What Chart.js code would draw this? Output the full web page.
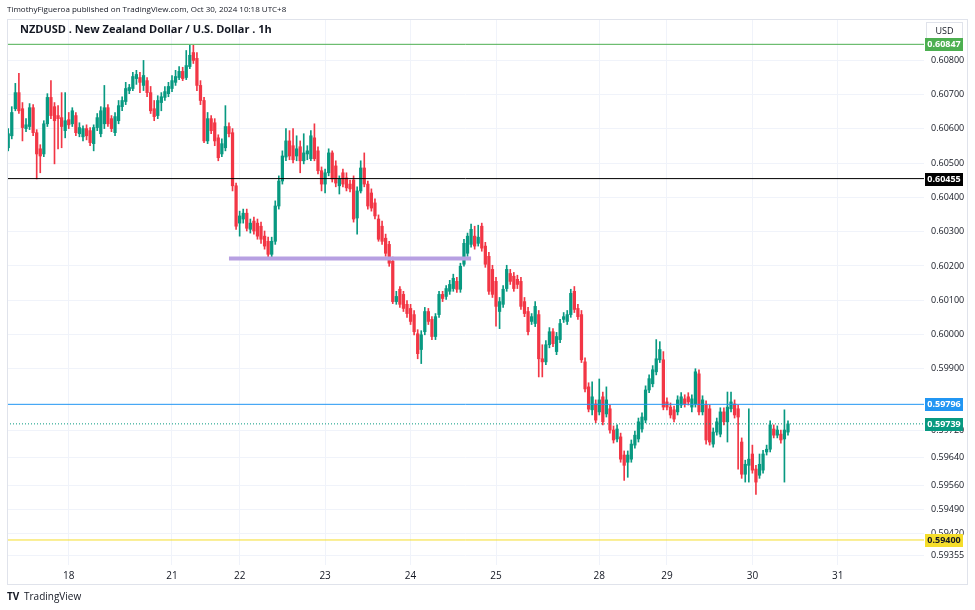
<!DOCTYPE html>
<html>
<head>
<meta charset="utf-8">
<script src="https://cdn.jsdelivr.net/npm/chart.js@4.4.0/dist/chart.umd.min.js"></script>
<style>
html, body { margin: 0; padding: 0; background: #fff; }
canvas { display: block; }
</style>
</head>
<body>
<canvas id="nzdusd" width="975" height="610"></canvas>
<script>
// NZDUSD 1h candles, Oct 17 07:00 -> Oct 30 10:00 (UTC+8)
var opens = [
 0.60545,0.60580,0.60659,0.60706,0.60659,0.60601,0.60607,0.60662,0.60589,0.60542,
 0.60527,0.60615,0.60692,0.60665,0.60639,0.60633,0.60595,0.60627,0.60615,0.60639,
 0.60586,0.60577,0.60601,0.60595,0.60557,0.60604,0.60586,0.60615,0.60662,0.60630,
 0.60589,0.60624,0.60665,0.60680,0.60712,0.60718,0.60747,0.60750,0.60727,0.60741,
 0.60706,0.60659,0.60639,0.60677,0.60692,0.60703,0.60718,0.60736,0.60750,0.60768,
 0.60750,0.60782,0.60823,0.60806,0.60727,0.60683,0.60565,0.60630,0.60618,0.60574,
 0.60527,0.60545,0.60607,0.60589,0.60434,0.60325,0.60337,0.60354,0.60307,0.60331,
 0.60325,0.60316,0.60287,0.60272,0.60234,0.60272,0.60375,0.60448,0.60518,0.60565,
 0.60551,0.60521,0.60548,0.60507,0.60527,0.60513,0.60574,0.60536,0.60478,0.60439,
 0.60472,0.60530,0.60492,0.60434,0.60472,0.60457,0.60439,0.60451,0.60340,0.60419,
 0.60486,0.60439,0.60413,0.60384,0.60337,0.60316,0.60281,0.60263,0.60214,0.60096,
 0.60132,0.60117,0.60088,0.60076,0.60058,0.60002,0.59956,0.60008,0.60067,0.60044,
 0.59994,0.60058,0.60117,0.60111,0.60126,0.60134,0.60155,0.60132,0.60205,0.60237,
 0.60263,0.60287,0.60266,0.60316,0.60258,0.60228,0.60190,0.60155,0.60067,0.60088,
 0.60134,0.60178,0.60170,0.60161,0.60155,0.60096,0.60067,0.60038,0.60032,0.60058,
 0.59929,0.59920,0.59970,0.60008,0.59950,0.59985,0.60044,0.60038,0.60058,0.60126,
 0.60076,0.60058,0.59920,0.59847,0.59780,0.59797,0.59774,0.59818,0.59768,0.59783,
 0.59721,0.59695,0.59701,0.59648,0.59627,0.59636,0.59677,0.59695,0.59724,0.59750,
 0.59838,0.59856,0.59891,0.59926,0.59926,0.59803,0.59788,0.59780,0.59774,0.59794,
 0.59812,0.59818,0.59788,0.59797,0.59885,0.59774,0.59794,0.59783,0.59680,0.59715,
 0.59709,0.59774,0.59745,0.59783,0.59797,0.59783,0.59686,0.59592,0.59618,0.59651,
 0.59607,0.59589,0.59604,0.59657,0.59665,0.59724,0.59706,0.59709,0.59695,0.59715
];
var highs = [
 0.60601,0.60665,0.60733,0.60762,0.60677,0.60630,0.60674,0.60671,0.60598,0.60554,
 0.60624,0.60703,0.60741,0.60677,0.60668,0.60706,0.60706,0.60648,0.60662,0.60648,
 0.60618,0.60609,0.60612,0.60604,0.60612,0.60645,0.60665,0.60727,0.60671,0.60639,
 0.60648,0.60683,0.60694,0.60736,0.60730,0.60765,0.60771,0.60765,0.60800,0.60750,
 0.60724,0.60683,0.60697,0.60706,0.60724,0.60736,0.60756,0.60771,0.60782,0.60780,
 0.60829,0.60844,0.60844,0.60823,0.60741,0.60692,0.60648,0.60639,0.60630,0.60583,
 0.60571,0.60668,0.60618,0.60601,0.60442,0.60360,0.60366,0.60366,0.60337,0.60343,
 0.60337,0.60328,0.60302,0.60284,0.60284,0.60390,0.60463,0.60536,0.60601,0.60595,
 0.60601,0.60580,0.60565,0.60586,0.60551,0.60595,0.60615,0.60548,0.60489,0.60483,
 0.60542,0.60536,0.60507,0.60463,0.60483,0.60472,0.60451,0.60463,0.60431,0.60507,
 0.60530,0.60448,0.60425,0.60396,0.60349,0.60331,0.60293,0.60272,0.60226,0.60126,
 0.60140,0.60126,0.60099,0.60088,0.60070,0.60014,0.60011,0.60079,0.60076,0.60052,
 0.60061,0.60126,0.60126,0.60143,0.60158,0.60176,0.60167,0.60208,0.60278,0.60296,
 0.60322,0.60316,0.60319,0.60325,0.60269,0.60240,0.60202,0.60167,0.60108,0.60143,
 0.60202,0.60190,0.60181,0.60173,0.60167,0.60108,0.60079,0.60061,0.60096,0.60070,
 0.59970,0.59982,0.60020,0.60017,0.60006,0.60044,0.60064,0.60070,0.60132,0.60140,
 0.60088,0.60070,0.59932,0.59859,0.59862,0.59809,0.59870,0.59832,0.59847,0.59794,
 0.59733,0.59736,0.59712,0.59660,0.59660,0.59692,0.59718,0.59756,0.59771,0.59850,
 0.59882,0.59909,0.59985,0.59979,0.59950,0.59815,0.59800,0.59791,0.59821,0.59830,
 0.59824,0.59830,0.59824,0.59900,0.59897,0.59821,0.59806,0.59794,0.59727,0.59756,
 0.59786,0.59786,0.59832,0.59832,0.59809,0.59794,0.59698,0.59633,0.59783,0.59677,
 0.59618,0.59651,0.59662,0.59677,0.59748,0.59736,0.59733,0.59721,0.59780,0.59748
];
var lows = [
 0.60536,0.60571,0.60653,0.60645,0.60565,0.60592,0.60598,0.60580,0.60454,0.60472,
 0.60519,0.60607,0.60630,0.60498,0.60542,0.60545,0.60574,0.60601,0.60607,0.60580,
 0.60577,0.60565,0.60568,0.60551,0.60536,0.60595,0.60577,0.60601,0.60607,0.60592,
 0.60580,0.60615,0.60653,0.60671,0.60703,0.60712,0.60730,0.60706,0.60712,0.60694,
 0.60645,0.60624,0.60630,0.60653,0.60683,0.60694,0.60709,0.60727,0.60744,0.60741,
 0.60744,0.60776,0.60791,0.60712,0.60671,0.60560,0.60557,0.60586,0.60551,0.60507,
 0.60519,0.60536,0.60577,0.60419,0.60307,0.60287,0.60325,0.60302,0.60296,0.60293,
 0.60278,0.60266,0.60249,0.60219,0.60219,0.60263,0.60366,0.60439,0.60507,0.60510,
 0.60501,0.60507,0.60472,0.60498,0.60510,0.60507,0.60507,0.60469,0.60419,0.60413,
 0.60463,0.60445,0.60431,0.60410,0.60431,0.60419,0.60416,0.60328,0.60293,0.60413,
 0.60431,0.60366,0.60360,0.60337,0.60272,0.60263,0.60228,0.60199,0.60090,0.60088,
 0.60079,0.60067,0.60050,0.60029,0.59999,0.59929,0.59915,0.59999,0.60029,0.59985,
 0.59985,0.60050,0.60096,0.60102,0.60117,0.60126,0.60123,0.60123,0.60199,0.60228,
 0.60255,0.60249,0.60258,0.60243,0.60196,0.60117,0.60108,0.60024,0.60017,0.60079,
 0.60126,0.60146,0.60126,0.60134,0.60073,0.60052,0.59999,0.60029,0.60023,0.59876,
 0.59876,0.59912,0.59961,0.59964,0.59941,0.59976,0.60035,0.60029,0.60050,0.60064,
 0.60044,0.59918,0.59832,0.59774,0.59765,0.59742,0.59765,0.59736,0.59759,0.59712,
 0.59683,0.59686,0.59627,0.59574,0.59583,0.59627,0.59668,0.59686,0.59715,0.59742,
 0.59830,0.59847,0.59882,0.59918,0.59780,0.59780,0.59756,0.59745,0.59765,0.59786,
 0.59788,0.59794,0.59774,0.59788,0.59765,0.59765,0.59680,0.59677,0.59671,0.59706,
 0.59701,0.59736,0.59686,0.59774,0.59756,0.59607,0.59580,0.59569,0.59569,0.59595,
 0.59533,0.59580,0.59595,0.59648,0.59657,0.59698,0.59698,0.59683,0.59569,0.59706
];
var closes = [
 0.60586,0.60648,0.60706,0.60653,0.60604,0.60612,0.60662,0.60589,0.60527,0.60521,
 0.60615,0.60692,0.60639,0.60624,0.60630,0.60607,0.60624,0.60612,0.60653,0.60589,
 0.60604,0.60601,0.60580,0.60560,0.60604,0.60633,0.60653,0.60662,0.60615,0.60601,
 0.60636,0.60668,0.60683,0.60718,0.60721,0.60753,0.60759,0.60736,0.60756,0.60706,
 0.60653,0.60636,0.60683,0.60694,0.60709,0.60724,0.60741,0.60753,0.60768,0.60747,
 0.60785,0.60815,0.60800,0.60727,0.60683,0.60565,0.60630,0.60595,0.60565,0.60516,
 0.60557,0.60607,0.60586,0.60434,0.60316,0.60346,0.60354,0.60310,0.60325,0.60302,
 0.60287,0.60278,0.60258,0.60234,0.60272,0.60375,0.60448,0.60521,0.60565,0.60521,
 0.60510,0.60542,0.60507,0.60530,0.60536,0.60580,0.60513,0.60478,0.60439,0.60472,
 0.60530,0.60454,0.60442,0.60454,0.60439,0.60428,0.60425,0.60337,0.60419,0.60486,
 0.60439,0.60375,0.60369,0.60346,0.60278,0.60272,0.60237,0.60208,0.60096,0.60111,
 0.60088,0.60076,0.60061,0.60038,0.60008,0.59944,0.59999,0.60067,0.60038,0.59994,
 0.60052,0.60117,0.60105,0.60134,0.60146,0.60164,0.60132,0.60199,0.60266,0.60287,
 0.60307,0.60258,0.60284,0.60252,0.60205,0.60126,0.60117,0.60082,0.60096,0.60132,
 0.60190,0.60155,0.60134,0.60146,0.60082,0.60061,0.60008,0.60052,0.60082,0.59929,
 0.59920,0.59970,0.60008,0.59973,0.59994,0.60032,0.60052,0.60058,0.60120,0.60073,
 0.60052,0.59926,0.59841,0.59782,0.59818,0.59750,0.59809,0.59745,0.59809,0.59721,
 0.59692,0.59724,0.59636,0.59618,0.59648,0.59680,0.59706,0.59745,0.59759,0.59838,
 0.59871,0.59897,0.59929,0.59956,0.59788,0.59788,0.59765,0.59753,0.59809,0.59818,
 0.59797,0.59803,0.59812,0.59891,0.59774,0.59809,0.59692,0.59686,0.59715,0.59745,
 0.59774,0.59745,0.59788,0.59803,0.59765,0.59759,0.59592,0.59621,0.59636,0.59604,
 0.59569,0.59621,0.59651,0.59665,0.59736,0.59706,0.59721,0.59692,0.59721,0.59739
];

// time axis: bar index of each day label
var dayTicks = [17, 46, 65, 89, 113, 137, 166, 185, 209, 233];
var dayLabels = ['18', '21', '22', '23', '24', '25', '28', '29', '30', '31'];

// price axis labels as TradingView printed them
var priceTicks = [0.608, 0.607, 0.606, 0.605, 0.604, 0.603, 0.602, 0.601, 0.600, 0.599,
                  0.5972, 0.5964, 0.5956, 0.5949, 0.5942, 0.59355];

// horizontal levels drawn on the chart
var levels = [0.60847, 0.60455, 0.59796, 0.59400];
var levelColors = ['#4caf50', '#000000', '#2196f3', '#f5dd2a'];
var levelText = ['#ffffff', '#ffffff', '#ffffff', '#131722'];
var lastPrice = 0.59739;
var zoneBars = [62, 130];
var zonePrice = 0.60222;

var UP = '#089981', DOWN = '#f23645';
var publisher = 'TimothyFigueroa published on TradingView.com, Oct 30, 2024 10:18 UTC+8';
var title = 'NZDUSD . New Zealand Dollar / U.S. Dollar . 1h';

var candleColors = closes.map(function(c, i) { return c >= opens[i] ? UP : DOWN; });
var wickData = closes.map(function(c, i) { return {x: i, y: [lows[i], highs[i]]}; });
var bodyData = closes.map(function(c, i) { return {x: i, y: [opens[i], c]}; });

var xMin = -0.34, xMax = 257.2;

function hline(price, color, width, dash) {
  return {
    type: 'line',
    data: [{x: xMin, y: price}, {x: xMax, y: price}],
    borderColor: color,
    borderWidth: width,
    borderDash: dash || [],
    pointRadius: 0,
    fill: false,
    order: 0
  };
}

var datasets = [
  {
    type: 'bar', data: wickData, backgroundColor: candleColors,
    barThickness: 1, grouped: false, order: 2
  },
  {
    type: 'bar', data: bodyData, backgroundColor: candleColors,
    barThickness: 2.6, minBarLength: 1, grouped: false, order: 1
  }
];
levels.forEach(function(v, i) { datasets.push(hline(v, levelColors[i], 1)); });
datasets.push(hline(lastPrice, UP, 1, [1, 2]));
datasets.push({
  type: 'line',
  data: [{x: zoneBars[0], y: zonePrice}, {x: zoneBars[1], y: zonePrice}],
  borderColor: '#b7a0e2', borderWidth: 4, borderCapStyle: 'butt',
  pointRadius: 0, fill: false, order: 0
});

var tickFont = {family: 'Open Sans', size: 9};

var overlay = {
  id: 'overlay',
  beforeDraw: function(chart) {
    var c = chart.ctx;
    c.save();
    c.fillStyle = '#ffffff';
    c.fillRect(0, 0, chart.width, chart.height);
    c.restore();
  },
  afterDraw: function(chart) {
    var c = chart.ctx, a = chart.chartArea, ys = chart.scales.y, xs = chart.scales.x;
    c.save();
    // frame
    c.strokeStyle = '#e0e3eb';
    c.lineWidth = 1;
    c.strokeRect(a.left + 0.5, a.top - 0.5, ys.right - a.left - 1, xs.bottom - a.top + 1);

    // texts
    c.fillStyle = '#131722';
    c.textBaseline = 'middle';
    c.textAlign = 'left';
    c.font = '8px "Open Sans"';
    c.fillText(publisher, 7, 10);
    c.font = 'bold 11px "Open Sans"';
    c.fillText(title, 20, 30);

    // currency box
    c.strokeStyle = '#e0e3eb';
    c.strokeRect(a.right + 2.5, a.top + 2.5, 36, 18);
    c.fillStyle = '#131722';
    c.font = '9px "Open Sans"';
    c.textAlign = 'center';
    c.fillText('USD', a.right + 20.5, a.top + 11.5);

    // price labels
    function tag(price, bg, fg) {
      var py = Math.round(ys.getPixelForValue(price));
      c.fillStyle = bg;
      c.fillRect(a.right + 1, py - 6, 38, 13);
      c.fillStyle = fg;
      c.font = 'bold 9px "Open Sans"';
      c.textAlign = 'center';
      c.fillText(price.toFixed(5), a.right + 20, py + 0.5);
    }
    levels.forEach(function(v, i) { tag(v, levelColors[i], levelText[i]); });
    tag(lastPrice, UP, '#ffffff');

    // logo
    c.fillStyle = '#131722';
    c.textAlign = 'left';
    c.font = 'bold 10px "Open Sans"';
    c.fillText('TV', 7, 597);
    c.font = '10px "Open Sans"';
    c.fillText('TradingView', 24, 597);
    c.restore();
  }
};

var config = {
  type: 'bar',
  data: {datasets: datasets},
  options: {
    responsive: false,
    devicePixelRatio: 1,
    animation: false,
    layout: {padding: {left: 7, top: 20, right: 7, bottom: 26}},
    plugins: {legend: {display: false}, tooltip: {enabled: false}},
    scales: {
      x: {
        type: 'linear', min: xMin, max: xMax, offset: false,
        afterBuildTicks: function(s) { s.ticks = dayTicks.map(function(v) { return {value: v}; }); },
        afterFit: function(s) { s.height = 19; },
        grid: {color: '#f0f3fa', drawTicks: false, offset: false},
        border: {display: false},
        ticks: {
          padding: 5, autoSkip: false, maxRotation: 0, color: '#131722',
          font: {family: 'Open Sans', size: 10},
          callback: function(v, i) { return dayLabels[i]; }
        }
      },
      y: {
        position: 'right', min: 0.59327, max: 0.60918,
        afterBuildTicks: function(s) { s.ticks = priceTicks.map(function(v) { return {value: v}; }); },
        afterFit: function(s) { s.width = 44; },
        grid: {color: '#f0f3fa', drawTicks: false},
        border: {display: false},
        ticks: {
          padding: 7, autoSkip: false, color: '#131722', font: tickFont,
          callback: function(v) { return v.toFixed(5); }
        }
      }
    }
  },
  plugins: [overlay]
};

window.onload = function() {
  var ctx = document.getElementById('nzdusd').getContext('2d');
  window.myChart = new Chart(ctx, config);
};
</script>
</body>
</html>
